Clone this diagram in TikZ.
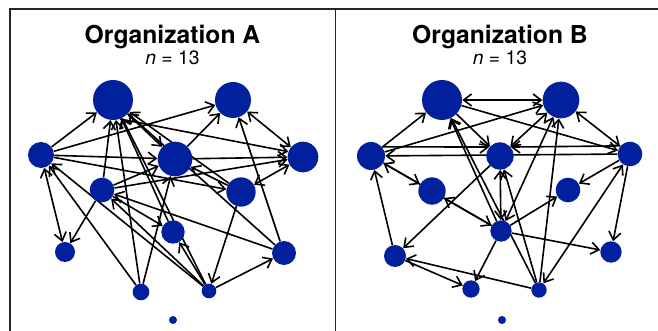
\documentclass[tikz,border=0pt]{standalone}
\usepackage{fontspec}
\setmainfont{TeX Gyre Heros}
\usetikzlibrary{arrows.meta,backgrounds}
\definecolor{nodeblue}{RGB}{0,32,158}
\tikzset{
  vtx/.style={circle, fill=nodeblue, draw=none, inner sep=0pt, minimum size=#1},
  e/.style={line width=1.2pt, -{Straight Barb[length=6pt,width=9pt]}},
  ee/.style={line width=1.2pt, {Straight Barb[length=6pt,width=9pt]}-{Straight Barb[length=6pt,width=9pt]}},
  frame/.style={line width=1.1pt, black!85},
  ttl/.style={font=\fontsize{18.5}{20}\selectfont\bfseries, anchor=base},
  sub/.style={font=\fontsize{14.5}{16}\selectfont, anchor=base}
}
\begin{document}
\begin{tikzpicture}[x=0.75pt,y=-0.75pt]
\useasboundingbox (0,0) rectangle (658,331);
% frame
\draw[frame] (10,331) -- (10,9) -- (658,9);
\draw[frame] (335.5,9) -- (335.5,331);
% titles
\node[ttl] (tA) at (172.5,44) {Organization A};
\node[sub] (nA) at (172.5,65) {\itshape n\upshape{} = 13};
\node[ttl] (tB) at (500,44) {Organization B};
\node[sub] (nB) at (500,65) {\itshape n\upshape{} = 13};
% panel A nodes
\node[vtx=30pt]   (A1)  at (113,100) {};
\node[vtx=27pt]   (A2)  at (233,100) {};
\node[vtx=19.5pt] (A3)  at (41,155) {};
\node[vtx=26pt]   (A4)  at (175,159) {};
\node[vtx=23pt]   (A5)  at (303,157) {};
\node[vtx=18.5pt] (A6)  at (102,190) {};
\node[vtx=22pt]   (A7)  at (241,192) {};
\node[vtx=17.5pt] (A8)  at (173,232) {};
\node[vtx=15pt]   (A9)  at (65,252) {};
\node[vtx=18pt]   (A10) at (284,253) {};
\node[vtx=12.5pt] (A11) at (141,292) {};
\node[vtx=11pt]   (A12) at (209,291) {};
\node[vtx=6pt]    (A13) at (173,320) {};
% panel B nodes
\node[vtx=30pt]   (B1)  at (442,100) {};
\node[vtx=27.5pt] (B2)  at (561,100) {};
\node[vtx=21pt]   (B3)  at (371,156) {};
\node[vtx=20.5pt] (B4)  at (500,156) {};
\node[vtx=18.5pt] (B5)  at (630,154) {};
\node[vtx=20.5pt] (B6)  at (432,191) {};
\node[vtx=18.5pt] (B7)  at (568,190) {};
\node[vtx=16pt]   (B8)  at (501,231) {};
\node[vtx=16.5pt] (B9)  at (395,256) {};
\node[vtx=16pt]   (B10) at (611,252) {};
\node[vtx=13pt]   (B11) at (471,289) {};
\node[vtx=11.5pt] (B12) at (539,290) {};
\node[vtx=6pt]    (B13) at (502,320) {};
\begin{pgfonlayer}{background}
% panel A edges
\draw[e] (A3) -- (A1);
\draw[e] (A3) -- (A2);
\draw[e] (A3) -- (A4);
\draw[e] (A3) -- (A7);
\draw[e] (A1.-70) -- (A5.160);
\draw[e] (A1) -- (A4);
\draw[e] (A4) -- (A2);
\draw[e] (A4) -- (A5);
\draw[e] (A7) -- (A4);
\draw[e] (A7) -- (A1);
\draw[e] (A10) -- (A2);
\draw[e] (A10) -- (A1);
\draw[e] (A10) -- (A6);
\draw[e] (A6) -- (A4);
\draw[e] (A6) -- (A5);
\draw[e] (A6) -- (A1);
\draw[e] (A6) -- (A9);
\draw[e] (A6) -- (A8);
\draw[e] (A8) -- (A1);
\draw[e] (A11) -- (A1);
\draw[e] (A11) -- (A4);
\draw[e] (A11) -- (A3);
\draw[e] (A12) -- (A3);
\draw[e] (A12) -- (A6);
\draw[e] (A12) -- (A10);
\draw[e] (A7) -- (A12);
\draw[e] (A12) -- (A8);
\draw[e] (A12) -- (A1);
\draw[ee] (A2) -- (A5);
\draw[ee] (A7) -- (A5);
\draw[ee] (A3) -- (A9);
% panel B edges
\draw[ee] (B1) -- (B2);
\draw[ee] (B2) -- (B5);
\draw[ee] (B2) -- (B4);
\draw[ee] (B2) -- (B8);
\draw[ee] (B4) -- (B8);
\draw[ee] (B12) -- (B5);
\draw[ee] (B6) -- (B8);
\draw[e] (B3) -- (B1);
\draw[e] (B3) -- (B2);
\draw[e] (B3.40) -- (B4.140);
\draw[e] (B5.140) -- (B4.40);
\draw[e] (B5) -- (B3);
\draw[e] (B1) -- (B5);
\draw[e] (B1) -- (B4);
\draw[e] (B12) -- (B2);
\draw[e] (B12) -- (B4);
\draw[e] (B12) -- (B1);
\draw[e] (B8) -- (B1);
\draw[e] (B12) -- (B9);
\draw[e] (B8) -- (B7);
\draw[e] (B8) -- (B10);
\draw[e] (B5) -- (B10);
\draw[e] (B5) -- (B7);
\draw[e] (B4) -- (B9);
\draw[e] (B9) -- (B3);
\draw[e] (B9) -- (B11);
\draw[e] (B8) -- (B11);
\draw[e] (B3) -- (B6);
\draw[e] (B8) -- (B3);
\end{pgfonlayer}
\end{tikzpicture}
\end{document}
